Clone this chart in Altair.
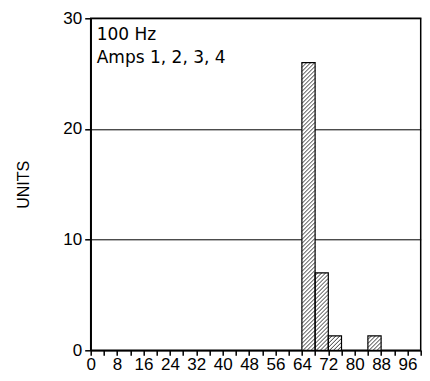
import altair as alt
import numpy as np
import pandas as pd

# Data
bin_start = [64, 68, 72, 84]
bin_end = [68, 72, 76, 88]
units = [26, 7, 1.3, 1.3]

annotation_lines = ["100 Hz", "Amps 1, 2, 3, 4"]

W, H = 330, 332
X_MAX, Y_MAX = 100, 30

bars = pd.DataFrame({"start": bin_start, "end": bin_end, "units": units})

# Hatch lines derived from each bar's extent (45 degree in pixel space)
px_x = W / X_MAX
px_y = H / Y_MAX
spacing_px = 4.0
rows = []
for s, e, h in zip(bin_start, bin_end, units):
    slope = px_x / px_y  # data-y per data-x for 45 deg
    rise = (e - s) * slope
    step = spacing_px / px_y
    c = -rise + step
    while c < h:
        x_a, y_a = s, c
        x_b, y_b = e, c + rise
        if y_a < 0:
            x_a = s + (0 - c) / slope
            y_a = 0
        if y_b > h:
            x_b = s + (h - c) / slope
            y_b = h
        if x_b > x_a:
            rows.append({"x": x_a, "y": y_a, "x2": x_b, "y2": y_b})
        c += step
hatch = pd.DataFrame(rows)

xs = alt.Scale(domain=[0, X_MAX], nice=False, zero=False)
ys = alt.Scale(domain=[0, Y_MAX], nice=False)

x_axis = alt.Axis(values=list(range(0, 101, 4)),
                  labelExpr="datum.value % 8 == 0 ? datum.label : ''",
                  labelFont="Liberation Sans", labelFontSize=17, labelColor="black",
                  tickColor="black", tickSize=5, tickWidth=1.5,
                  domainColor="black", domainWidth=1.5, grid=False,
                  labelPadding=1, labelFlush=False, labelOverlap=False)
y_axis = alt.Axis(values=[0, 10, 20, 30], labelFont="Liberation Sans", labelFontSize=17,
                  labelColor="black", tickColor="black", tickSize=6, tickWidth=1.5,
                  domainColor="black", domainWidth=1.5,
                  grid=True, gridColor="black", gridWidth=1, gridOpacity=1,
                  labelPadding=3, titleFont="Liberation Sans", titleFontSize=16,
                  titleFontWeight="normal", titleColor="black", titlePadding=31)

bar_fill = alt.Chart(bars).mark_rect(fill="white", stroke=None).encode(
    x=alt.X("start:Q", scale=xs, title=None, axis=x_axis), x2="end:Q",
    y=alt.Y("units:Q", scale=ys, title="UNITS", axis=y_axis), y2=alt.datum(0)
)

hatch_layer = alt.Chart(hatch).mark_rule(color="#222222", strokeWidth=0.9).encode(
    x=alt.X("x:Q", scale=xs, title=None, axis=x_axis), x2="x2:Q",
    y=alt.Y("y:Q", scale=ys, title="UNITS", axis=y_axis), y2="y2:Q",
)

bar_outline = alt.Chart(bars).mark_rect(fillOpacity=0, stroke="black", strokeWidth=1.2).encode(
    x=alt.X("start:Q", scale=xs, title=None, axis=x_axis), x2="end:Q",
    y=alt.Y("units:Q", scale=ys, title="UNITS", axis=y_axis), y2=alt.datum(0)
)

text_layers = []
for line_text, ypix in zip(annotation_lines, [22, 45]):
    text_layers.append(
        alt.Chart(pd.DataFrame({"text": [line_text]})).mark_text(
            align="left", baseline="alphabetic", font="DejaVu Sans", fontSize=17, color="black"
        ).encode(x=alt.value(6), y=alt.value(ypix), text="text:N")
    )

chart = alt.layer(bar_fill, hatch_layer, bar_outline, *text_layers).properties(
    width=W, height=H,
    background="white",
    autosize=alt.AutoSizeParams(type="none"),
    padding={"left": 82.7, "top": 10.3, "right": 1.3, "bottom": 22.7},
).configure_view(stroke="black", strokeWidth=1.5).configure_axisX(
    labelOverlap=False
)

chart.save("out.html", embed_options={"renderer": "svg", "actions": False})
